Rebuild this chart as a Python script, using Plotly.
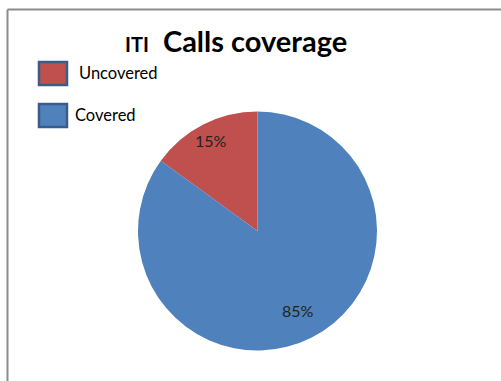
import math
import plotly.graph_objects as go

# Call coverage shares
labels = ["Uncovered", "Covered"]
values = [15, 85]
colors = ["#C0504D", "#4F81BD"]

W, H = 501, 381

# pie placement in pixels
cx, cy, R = 257.5, 231.0, 119.5
label_radius = [0.85, 0.75]  # fraction of R where each percent label sits

total = sum(values)
# first slice ends at 12 o'clock, the rest continue counterclockwise
start_rotation = -360.0 * values[0] / total

fig = go.Figure()
fig.add_trace(go.Pie(
    labels=labels,
    values=values,
    sort=False,
    direction="clockwise",
    rotation=start_rotation,
    marker=dict(colors=colors, line=dict(width=0)),
    textinfo="none",
    domain=dict(x=[(cx - R) / W, (cx + R) / W], y=[1 - (cy + R) / H, 1 - (cy - R) / H]),
    showlegend=False,
    hoverinfo="label+percent",
))

shapes = [
    # frame lines along the top and left edges
    dict(type="line", xref="paper", yref="paper", x0=7.5 / W, x1=1, y0=1 - 9.5 / H, y1=1 - 9.5 / H,
         line=dict(color="#8c8c8c", width=2)),
    dict(type="line", xref="paper", yref="paper", x0=7.5 / W, x1=7.5 / W, y0=0, y1=1 - 9.5 / H,
         line=dict(color="#8c8c8c", width=2)),
]
annotations = [
    dict(text="<b><span style='font-size:20px'>ITI</span>&nbsp;&nbsp;Calls coverage</b>",
         x=236 / W, y=1 - 41 / H, xref="paper", yref="paper", showarrow=False,
         xanchor="center", yanchor="middle",
         font=dict(family="Lato", size=29, color="#000000")),
]

# percent labels at the mid-angle of each slice (counterclockwise from 12 o'clock)
start = 0.0
for v, rf in zip(values, label_radius):
    sweep = 360.0 * v / total
    mid = math.radians(start + sweep / 2)
    lx = cx - R * rf * math.sin(mid)
    ly = cy - R * rf * math.cos(mid)
    annotations.append(dict(text=f"{round(100 * v / total)}%", x=lx / W, y=1 - ly / H,
                            xref="paper", yref="paper", showarrow=False,
                            xanchor="center", yanchor="middle",
                            font=dict(family="Lato", size=16, color="#222222")))
    start += sweep

# legend boxes and labels
legend_rows = [73.5, 115.5]
legend_text_x = [77, 73]
for lab, col, yc, tx in zip(labels, colors, legend_rows, legend_text_x):
    shapes.append(dict(type="rect", xref="paper", yref="paper",
                       x0=39 / W, x1=67 / W, y0=1 - (yc + 11.5) / H, y1=1 - (yc - 11.5) / H,
                       fillcolor=col, line=dict(color="#3b5b88", width=2.5)))
    annotations.append(dict(text=lab, x=tx / W, y=1 - (yc - 1) / H, xref="paper", yref="paper",
                            showarrow=False, xanchor="left", yanchor="middle",
                            font=dict(family="Lato", size=16.5, color="#000000")))

fig.update_layout(
    width=W, height=H,
    margin=dict(l=0, r=0, t=0, b=0),
    paper_bgcolor="#ffffff",
    plot_bgcolor="#ffffff",
    shapes=shapes,
    annotations=annotations,
)

fig.write_html("out.html")
